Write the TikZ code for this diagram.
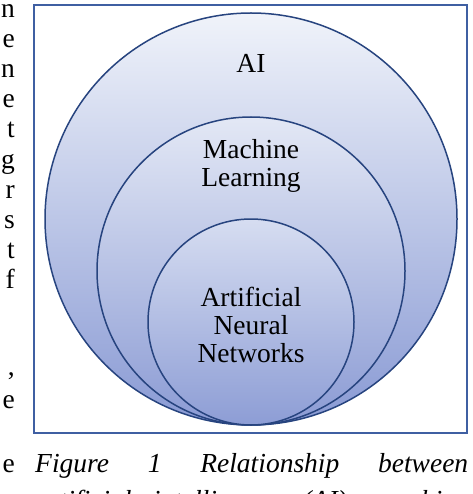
\documentclass[tikz,border=0pt]{standalone}
\usepackage{fontspec}
\setmainfont{Liberation Serif}
\definecolor{frameblue}{HTML}{3F5FA2}
\definecolor{edgeblue}{HTML}{27447F}
\definecolor{topA}{HTML}{F0F3FA}
\definecolor{botA}{HTML}{899AD4}
\definecolor{topB}{HTML}{E3E8F5}
\definecolor{botB}{HTML}{8B9BD4}
\definecolor{topC}{HTML}{D6DDF1}
\definecolor{botC}{HTML}{8D9DD5}
\begin{document}
\begin{tikzpicture}[x=1pt,y=-1pt,
  ring/.style={circle, draw=edgeblue, line width=1.5pt, inner sep=0pt},
  lbl/.style={font=\fontsize{27.5}{28}\selectfont, align=center, inner sep=0pt, anchor=base},
  side/.style={font=\fontsize{27.5}{30}\selectfont, inner sep=0pt, anchor=base east},
  capt/.style={font=\fontsize{27.5}{30}\selectfont\itshape, inner sep=0pt, anchor=base west}]
\useasboundingbox (0,0) rectangle (472,494);
\clip (0,0) rectangle (472,494);
% frame
\draw[frameblue, line width=2pt] (34,5) rectangle (467,433);
% nested circles
\node[ring, minimum size=412pt, top color=topA, bottom color=botA] (ai) at (251,219) {};
\node[ring, minimum size=308pt, top color=topB, bottom color=botB] (ml) at (251,271) {};
\node[ring, minimum size=206pt, top color=topC, bottom color=botC] (ann) at (251,322) {};
% labels (base anchor = last line)
\node[lbl] (tai) at (251,73) {AI};
\node[lbl] (tml) at (251,186) {Machine\\Learning};
\node[lbl] (tann) at (251,362) {Artificial\\Neural\\Networks};
% cropped text of the neighbouring column
\node[side] (s1) at (15,18) {n};
\node[side] (s2) at (15,48) {e};
\node[side] (s3) at (15,78) {n};
\node[side] (s4) at (15,108) {e};
\node[side] (s5) at (15,138) {t};
\node[side] (s6) at (15,168) {g};
\node[side] (s7) at (15,198) {r};
\node[side] (s8) at (15,228) {s};
\node[side] (s9) at (15,258) {t};
\node[side] (s10) at (15,288) {f};
\node[side] (s11) at (15,375) {,};
\node[side] (s12) at (15,408) {e};
\node[side] (s13) at (15,472) {e};
% caption
\node[capt] (cap1) at (35,472) {\hbox to 433pt{Figure\hfill 1\hfill Relationship\hfill between}};
\node[capt] (cap2) at (35,509) {\hbox to 433pt{artificial\hfill intelligence\hfill (AI),\hfill machine}};
\end{tikzpicture}
\end{document}
